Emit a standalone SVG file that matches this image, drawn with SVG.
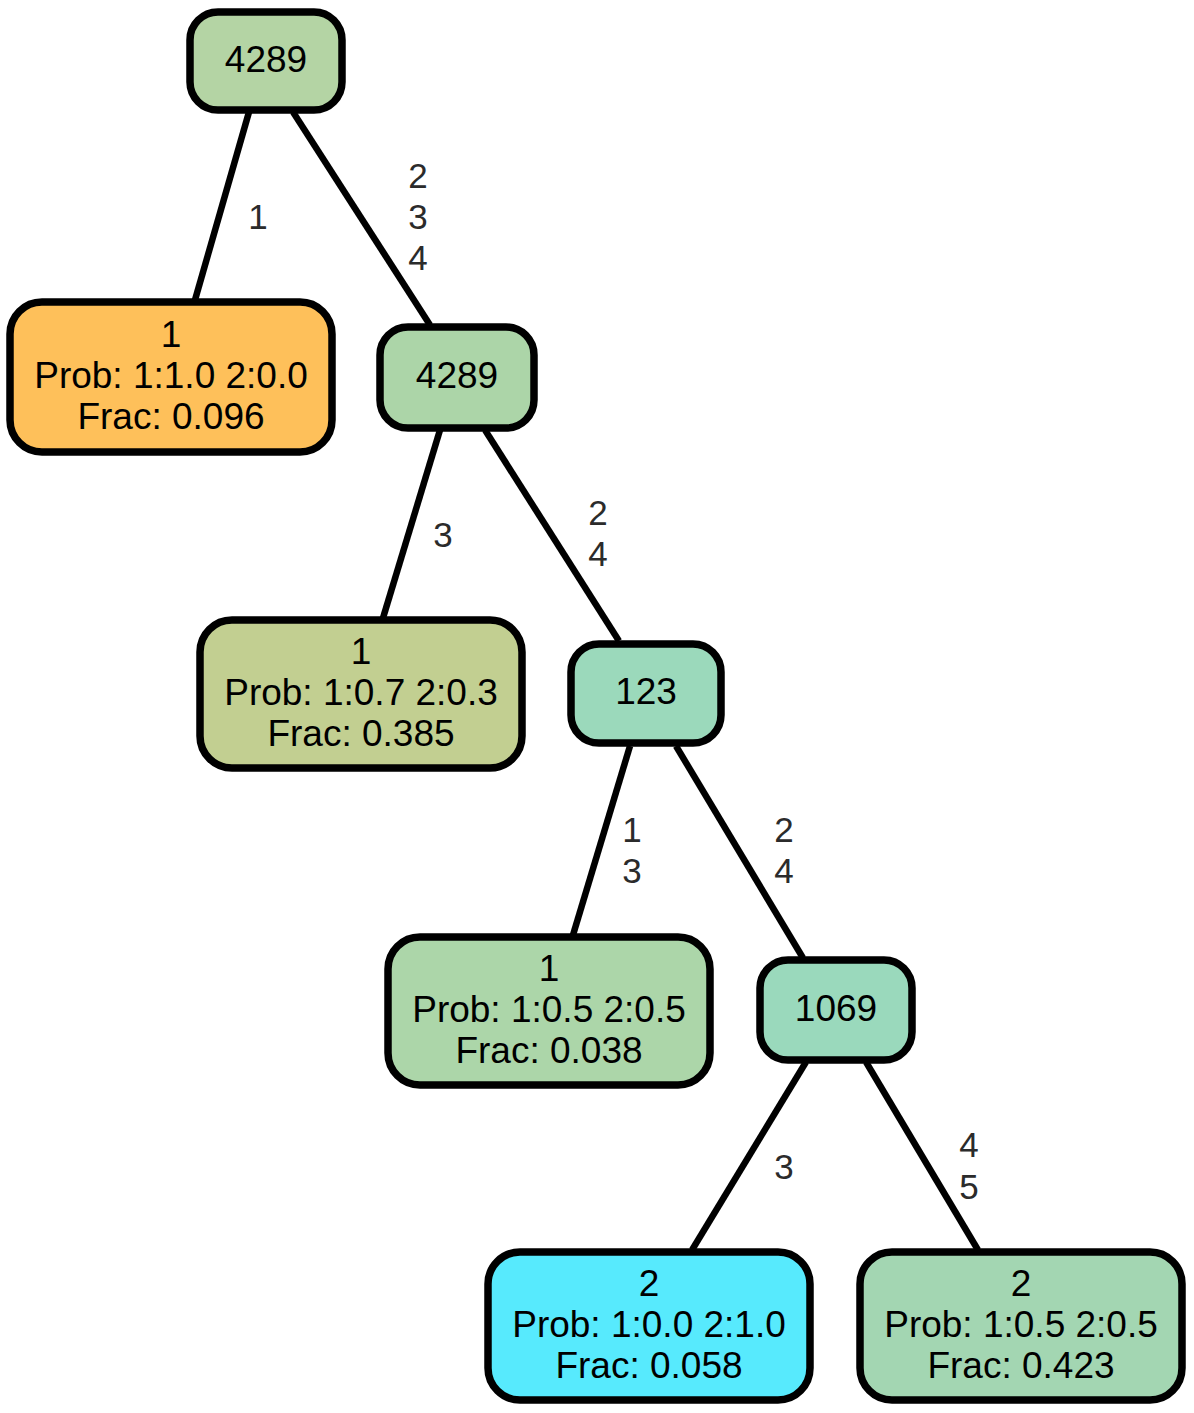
<svg xmlns="http://www.w3.org/2000/svg" width="1194" height="1413" viewBox="0 0 1194 1413">
<style>
.n{stroke:#000;stroke-width:7.5}
.t{font-family:"Liberation Sans",Arial,sans-serif;font-size:37px;text-anchor:middle;fill:#000}
.e{stroke:#000;stroke-width:6.5;fill:none}
.l{font-family:"Liberation Sans",Arial,sans-serif;font-size:35px;text-anchor:middle;fill:#2b2b2b}
</style>
<rect width="1194" height="1413" fill="#fff"/>
<g id="edges">
<line class="e" x1="249" y1="112" x2="195" y2="300"/>
<line class="e" x1="293" y1="112" x2="430" y2="325"/>
<line class="e" x1="440" y1="430" x2="383" y2="618"/>
<line class="e" x1="485" y1="430" x2="619" y2="641"/>
<line class="e" x1="630" y1="746" x2="573" y2="935"/>
<line class="e" x1="676" y1="746" x2="803" y2="958"/>
<line class="e" x1="806" y1="1062" x2="692" y2="1250"/>
<line class="e" x1="866" y1="1062" x2="978" y2="1250"/>
<text class="l" x="258" y="229">1</text>
<text class="l" x="418" y="188">2</text>
<text class="l" x="418" y="229">3</text>
<text class="l" x="418" y="270">4</text>
<text class="l" x="443" y="547">3</text>
<text class="l" x="598" y="525">2</text>
<text class="l" x="598" y="566">4</text>
<text class="l" x="632" y="842">1</text>
<text class="l" x="632" y="883">3</text>
<text class="l" x="784" y="842">2</text>
<text class="l" x="784" y="883">4</text>
<text class="l" x="784" y="1179">3</text>
<text class="l" x="969" y="1157">4</text>
<text class="l" x="969" y="1199">5</text>
</g>
<g id="n0">
<rect class="n" x="190" y="12" width="152" height="98" rx="28" fill="#b4d4a4"/>
<text class="t" x="266" y="72">4289</text>
</g>
<g id="n1">
<rect class="n" x="10" y="302" width="322" height="150" rx="32" fill="#fec05a"/>
<text class="t" x="171" y="347">1</text>
<text class="t" x="171" y="388">Prob: 1:1.0 2:0.0</text>
<text class="t" x="171" y="429">Frac: 0.096</text>
</g>
<g id="n2">
<rect class="n" x="380" y="327" width="154" height="101" rx="28" fill="#acd5a8"/>
<text class="t" x="457" y="388">4289</text>
</g>
<g id="n3">
<rect class="n" x="200" y="620" width="322" height="148" rx="32" fill="#c2cf91"/>
<text class="t" x="361" y="664">1</text>
<text class="t" x="361" y="705">Prob: 1:0.7 2:0.3</text>
<text class="t" x="361" y="746">Frac: 0.385</text>
</g>
<g id="n4">
<rect class="n" x="571" y="644" width="150" height="99" rx="28" fill="#9bd9bb"/>
<text class="t" x="646" y="704">123</text>
</g>
<g id="n5">
<rect class="n" x="388" y="937" width="322" height="148" rx="32" fill="#acd6a9"/>
<text class="t" x="549" y="981">1</text>
<text class="t" x="549" y="1022">Prob: 1:0.5 2:0.5</text>
<text class="t" x="549" y="1063">Frac: 0.038</text>
</g>
<g id="n6">
<rect class="n" x="760" y="960" width="152" height="100" rx="28" fill="#9ad9bc"/>
<text class="t" x="836" y="1021">1069</text>
</g>
<g id="n7">
<rect class="n" x="488" y="1252" width="322" height="148" rx="32" fill="#57eafd"/>
<text class="t" x="649" y="1296">2</text>
<text class="t" x="649" y="1337">Prob: 1:0.0 2:1.0</text>
<text class="t" x="649" y="1378">Frac: 0.058</text>
</g>
<g id="n8">
<rect class="n" x="860" y="1252" width="322" height="148" rx="32" fill="#a3d6b2"/>
<text class="t" x="1021" y="1296">2</text>
<text class="t" x="1021" y="1337">Prob: 1:0.5 2:0.5</text>
<text class="t" x="1021" y="1378">Frac: 0.423</text>
</g>
</svg>
